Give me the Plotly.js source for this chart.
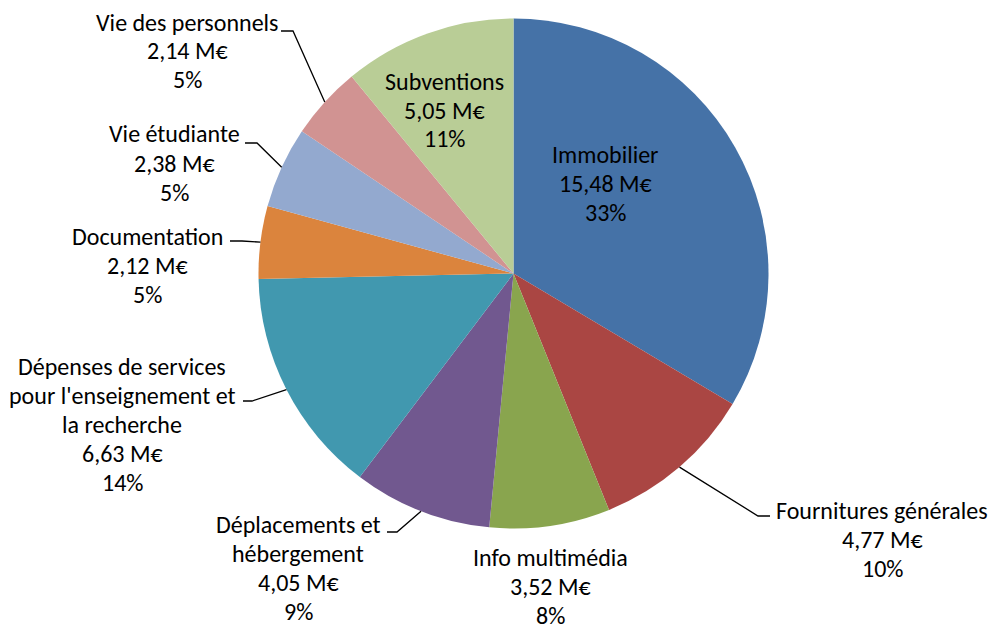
<!DOCTYPE html>
<html>
<head>
<meta charset="utf-8">
<script src="https://cdn.plot.ly/plotly-3.0.1.min.js"></script>
<style>html,body{margin:0;padding:0;background:#fff;}#chart{width:992px;height:627px;}</style>
</head>
<body>
<div id="chart"></div>
<script>
// ---- data ----
const labels = ["Immobilier", "Fournitures générales", "Info multimédia", "Déplacements et|hébergement", "Dépenses de services|pour l'enseignement et|la recherche", "Documentation", "Vie étudiante", "Vie des personnels", "Subventions"];
const values = [15.48, 4.77, 3.52, 4.05, 6.63, 2.12, 2.38, 2.14, 5.05];
const pctLabels = ["33%", "10%", "8%", "9%", "14%", "5%", "5%", "5%", "11%"];
const colors = ["#4572A7", "#AA4643", "#89A54E", "#71588F", "#4198AF", "#DB843D", "#93A9CF", "#D19392", "#B9CD96"];

// ---- layout config (pixel positions of label blocks and leader ends) ----
const W = 992, H = 627;
const pieBox = {x0: 258.5, x1: 768.5, y0: 18.5, y1: 528.5};
// [textCenterX, textCenterY, leaderEndX, leaderEndY, elbowDx] ; null leader = none
const labelLayout = [
  [605, 183, null, null, 0],
  [882, 539, 770, 516, -12],
  [550, 586, null, null, 0],
  [298, 568, 387, 532, 10],
  [122, 424, 243, 401, 9],
  [147, 265, 230, 241, 12],
  [174, 163, 245, 143, 12],
  [187, 51, 281, 31, 12],
  [444, 110, null, null, 0]
];
const LINE_H = 29;
const FONT = {family: "Carlito, Calibri, Lato, sans-serif", size: 24, color: "#000"};

const px = x => x / W;
const py = y => 1 - y / H;

const total = values.reduce((a, b) => a + b, 0);
const cx = (pieBox.x0 + pieBox.x1) / 2, cy = (pieBox.y0 + pieBox.y1) / 2;
const r = Math.min(pieBox.x1 - pieBox.x0, pieBox.y1 - pieBox.y0) / 2;

const fmt = v => v.toFixed(2).replace('.', ',') + " M€";

const annotations = [];
const shapes = [];
let cum = 0;
values.forEach((v, i) => {
  const mid = (cum + v / 2) / total * 2 * Math.PI;
  cum += v;
  const L = labelLayout[i];
  const lines = labels[i].split('|').concat([fmt(v), pctLabels[i]]);
  lines.forEach((t, k) => {
    annotations.push({
      xref: 'paper', yref: 'paper', x: px(L[0]), y: py(L[1] + (k - (lines.length - 1) / 2) * LINE_H),
      xanchor: 'center', yanchor: 'middle', align: 'center', showarrow: false,
      text: t, font: FONT
    });
  });
  if (L[2] !== null) {
    const sx = cx + r * Math.sin(mid), sy = cy - r * Math.cos(mid);
    const ex = L[2], ey = L[3], bx = L[2] + L[4];
    shapes.push({
      type: 'path', xref: 'paper', yref: 'paper',
      path: `M ${px(sx)},${py(sy)} L ${px(bx)},${py(ey)} L ${px(ex)},${py(ey)}`,
      line: {color: '#000', width: 1.3}
    });
  }
});

const trace = {
  type: 'pie', values: values, labels: labels.map(s => s.replace(/\|/g, ' ')),
  marker: {colors: colors, line: {width: 0}},
  sort: false, direction: 'clockwise', rotation: 0,
  textinfo: 'none', hoverinfo: 'label+value+percent',
  domain: {x: [px(pieBox.x0), px(pieBox.x1)], y: [py(pieBox.y1), py(pieBox.y0)]}
};

Plotly.newPlot('chart', [trace], {
  width: W, height: H, margin: {l: 0, r: 0, t: 0, b: 0},
  paper_bgcolor: '#fff', showlegend: false,
  annotations: annotations, shapes: shapes
}, {displayModeBar: false, staticPlot: true});
</script>
</body>
</html>
